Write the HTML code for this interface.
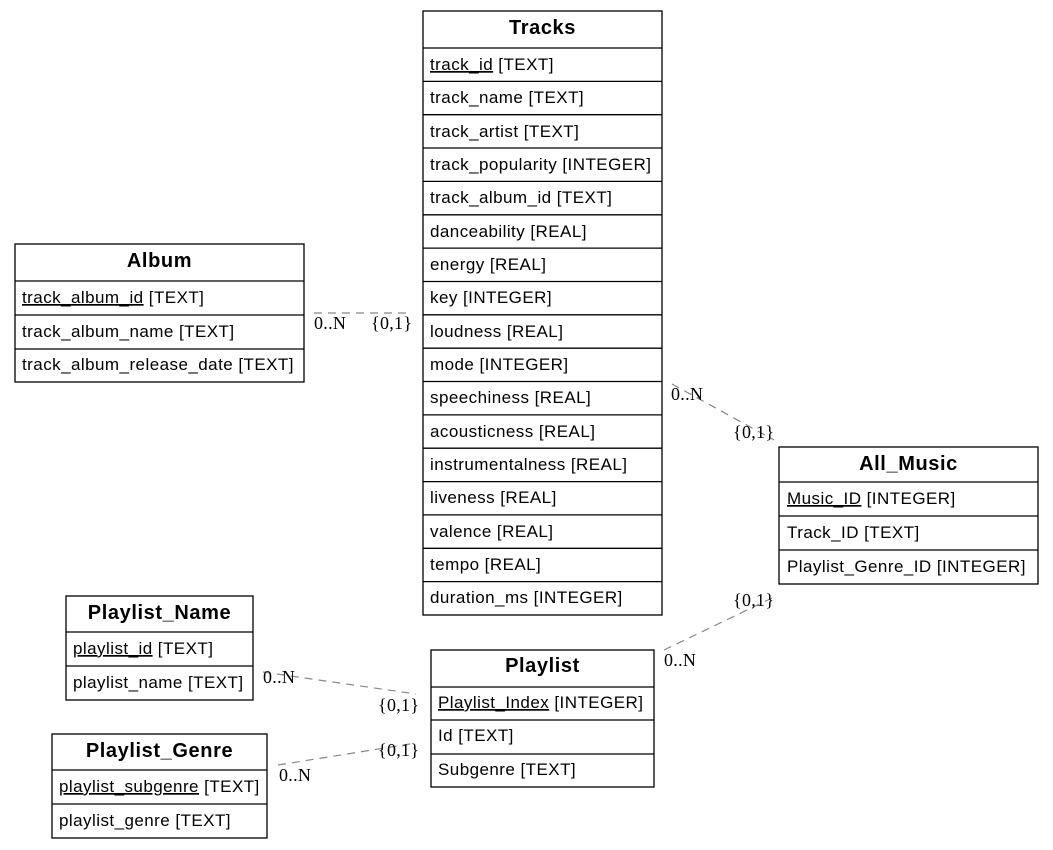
<!DOCTYPE html>
<html><head><meta charset="utf-8"><style>
html,body{margin:0;padding:0;background:#fff;}
svg{display:block;}
.h{font-family:"Liberation Sans",Arial,sans-serif;font-weight:bold;font-size:20px;letter-spacing:0.6px;text-anchor:middle;fill:#000;}
.r{font-family:"Liberation Sans",Arial,sans-serif;font-size:17px;letter-spacing:0.45px;fill:#000;}
.l{font-family:"Liberation Serif","Times New Roman",serif;font-size:18px;letter-spacing:0.3px;fill:#000;}
.b{fill:#fff;stroke:#000;stroke-width:1.3;}
.d{stroke:#888;stroke-width:1.2;stroke-dasharray:8,6;fill:none;}
.s{stroke:#000;stroke-width:1.3;}
</style></head><body>
<svg width="1053" height="850" viewBox="0 0 1053 850" xmlns="http://www.w3.org/2000/svg">
<!-- connectors -->
<line class="d" x1="314" y1="313" x2="412" y2="313"/>
<text class="l" x="314" y="329">0..N</text><text class="l" x="371" y="329">{0,1}</text>
<line class="d" x1="672" y1="384" x2="774" y2="440"/>
<text class="l" x="671" y="400">0..N</text><text class="l" x="733" y="438">{0,1}</text>
<line class="d" x1="664" y1="650" x2="772" y2="598"/>
<text class="l" x="733" y="606">{0,1}</text><text class="l" x="664" y="666">0..N</text>
<line class="d" x1="263" y1="672" x2="416" y2="694"/>
<text class="l" x="263" y="683">0..N</text><text class="l" x="378" y="711">{0,1}</text>
<line class="d" x1="278" y1="765" x2="416" y2="743"/>
<text class="l" x="378" y="756">{0,1}</text><text class="l" x="279" y="781">0..N</text>

<!-- Tracks -->
<rect class="b" x="423" y="11" width="239" height="604"/>
<text class="h" x="542.5" y="34">Tracks</text>
<g class="s">
<line x1="423" y1="48" x2="662" y2="48"/><line x1="423" y1="81.4" x2="662" y2="81.4"/>
<line x1="423" y1="114.7" x2="662" y2="114.7"/><line x1="423" y1="148" x2="662" y2="148"/>
<line x1="423" y1="181.4" x2="662" y2="181.4"/><line x1="423" y1="214.8" x2="662" y2="214.8"/>
<line x1="423" y1="248.1" x2="662" y2="248.1"/><line x1="423" y1="281.5" x2="662" y2="281.5"/>
<line x1="423" y1="314.8" x2="662" y2="314.8"/><line x1="423" y1="348.2" x2="662" y2="348.2"/>
<line x1="423" y1="381.5" x2="662" y2="381.5"/><line x1="423" y1="414.9" x2="662" y2="414.9"/>
<line x1="423" y1="448.2" x2="662" y2="448.2"/><line x1="423" y1="481.6" x2="662" y2="481.6"/>
<line x1="423" y1="514.9" x2="662" y2="514.9"/><line x1="423" y1="548.3" x2="662" y2="548.3"/>
<line x1="423" y1="581.6" x2="662" y2="581.6"/>
</g>
<text class="r" x="430" y="70"><tspan text-decoration="underline">track_id</tspan> [TEXT]</text>
<text class="r" x="430" y="103">track_name [TEXT]</text>
<text class="r" x="430" y="137">track_artist [TEXT]</text>
<text class="r" x="430" y="170">track_popularity [INTEGER]</text>
<text class="r" x="430" y="203">track_album_id [TEXT]</text>
<text class="r" x="430" y="237">danceability [REAL]</text>
<text class="r" x="430" y="270">energy [REAL]</text>
<text class="r" x="430" y="303">key [INTEGER]</text>
<text class="r" x="430" y="337">loudness [REAL]</text>
<text class="r" x="430" y="370">mode [INTEGER]</text>
<text class="r" x="430" y="403">speechiness [REAL]</text>
<text class="r" x="430" y="437">acousticness [REAL]</text>
<text class="r" x="430" y="470">instrumentalness [REAL]</text>
<text class="r" x="430" y="503">liveness [REAL]</text>
<text class="r" x="430" y="537">valence [REAL]</text>
<text class="r" x="430" y="570">tempo [REAL]</text>
<text class="r" x="430" y="603">duration_ms [INTEGER]</text>

<!-- Album -->
<rect class="b" x="15" y="244" width="289" height="138"/>
<text class="h" x="159.5" y="267">Album</text>
<g class="s"><line x1="15" y1="281" x2="304" y2="281"/><line x1="15" y1="315" x2="304" y2="315"/><line x1="15" y1="349" x2="304" y2="349"/></g>
<text class="r" x="22" y="303"><tspan text-decoration="underline">track_album_id</tspan> [TEXT]</text>
<text class="r" x="22" y="337">track_album_name [TEXT]</text>
<text class="r" x="22" y="370">track_album_release_date [TEXT]</text>

<!-- All_Music -->
<rect class="b" x="779" y="447" width="259" height="137"/>
<text class="h" x="908.5" y="470">All_Music</text>
<g class="s"><line x1="779" y1="482" x2="1038" y2="482"/><line x1="779" y1="516" x2="1038" y2="516"/><line x1="779" y1="550" x2="1038" y2="550"/></g>
<text class="r" x="787" y="504"><tspan text-decoration="underline">Music_ID</tspan> [INTEGER]</text>
<text class="r" x="787" y="538">Track_ID [TEXT]</text>
<text class="r" x="787" y="572">Playlist_Genre_ID [INTEGER]</text>

<!-- Playlist_Name -->
<rect class="b" x="66" y="596" width="187" height="104"/>
<text class="h" x="159.5" y="619">Playlist_Name</text>
<g class="s"><line x1="66" y1="632" x2="253" y2="632"/><line x1="66" y1="666" x2="253" y2="666"/></g>
<text class="r" x="73" y="654"><tspan text-decoration="underline">playlist_id</tspan> [TEXT]</text>
<text class="r" x="73" y="688">playlist_name [TEXT]</text>

<!-- Playlist_Genre -->
<rect class="b" x="52" y="734" width="215" height="104"/>
<text class="h" x="159.5" y="757">Playlist_Genre</text>
<g class="s"><line x1="52" y1="770" x2="267" y2="770"/><line x1="52" y1="804" x2="267" y2="804"/></g>
<text class="r" x="59" y="792"><tspan text-decoration="underline">playlist_subgenre</tspan> [TEXT]</text>
<text class="r" x="59" y="826">playlist_genre [TEXT]</text>

<!-- Playlist -->
<rect class="b" x="431" y="650" width="223" height="137"/>
<text class="h" x="542.5" y="672">Playlist</text>
<g class="s"><line x1="431" y1="687" x2="654" y2="687"/><line x1="431" y1="720" x2="654" y2="720"/><line x1="431" y1="754" x2="654" y2="754"/></g>
<text class="r" x="438" y="708"><tspan text-decoration="underline">Playlist_Index</tspan> [INTEGER]</text>
<text class="r" x="438" y="741">Id [TEXT]</text>
<text class="r" x="438" y="775">Subgenre [TEXT]</text>
</svg>
</body></html>
